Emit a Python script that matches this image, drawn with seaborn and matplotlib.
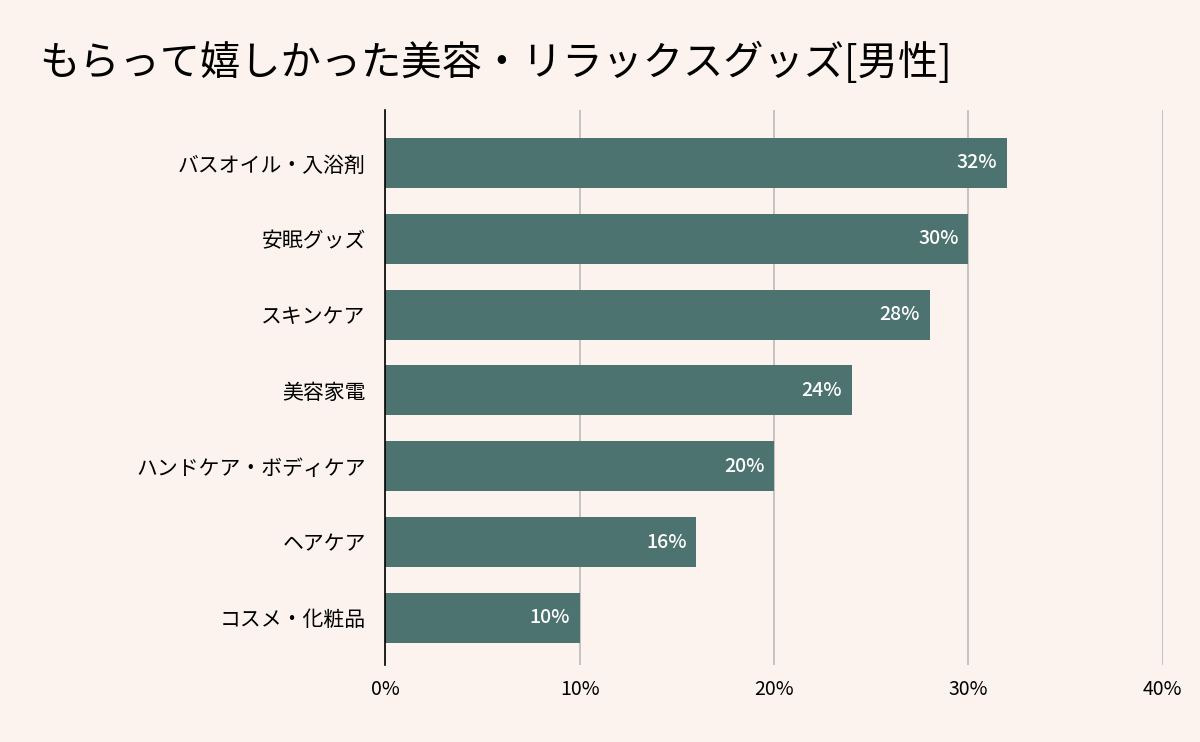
import matplotlib
matplotlib.use("Agg")
import matplotlib.pyplot as plt
import seaborn as sns
import pandas as pd

categories = ["バスオイル・入浴剤", "安眠グッズ", "スキンケア", "美容家電",
              "ハンドケア・ボディケア", "ヘアケア", "コスメ・化粧品"]
values = [32, 30, 28, 24, 20, 16, 10]
xticks = [0, 10, 20, 30, 40]
xtick_labels = ["0%", "10%", "20%", "30%", "40%"]

plt.rcParams["font.family"] = "Noto Sans CJK JP"
bg = "#FCF3EE"
bar_color = "#4D7370"

df = pd.DataFrame({"cat": categories, "val": values})
fig = plt.figure(figsize=(12, 7.42), dpi=100, facecolor=bg)
ax = fig.add_axes([0.321, 0.104, 0.648, 0.748])
ax.set_facecolor(bg)
sns.barplot(data=df, x="val", y="cat", color=bar_color, width=0.66, ax=ax,
            saturation=1, zorder=3)
ax.set_xlim(0, 40)
ax.set_ylim(6.62, -0.7)
ax.set_xticks(xticks)
ax.set_xticklabels(xtick_labels, fontsize=14)
ax.tick_params(axis="both", length=0, labelsize=15)
ax.tick_params(axis="x", pad=10, labelsize=14)
ax.tick_params(axis="y", pad=14)
ax.set_xlabel("")
ax.set_ylabel("")
ax.grid(axis="x", color="#BBBBBB", linewidth=1.2, zorder=0)
for s in ["top", "right", "bottom"]:
    ax.spines[s].set_visible(False)
ax.spines["left"].set_color("black")
ax.spines["left"].set_linewidth(1.2)
ax.spines["left"].set_zorder(4)
for i, v in enumerate(values):
    ax.text(v - 0.5, i, f"{v}%", color="white", ha="right", va="center",
            fontsize=14, fontweight="medium", zorder=5)
fig.text(0.033, 0.915, "もらって嬉しかった美容・リラックスグッズ[男性]",
         fontsize=29, ha="left", va="center")
fig.savefig("out.png", dpi=100, facecolor=bg)
